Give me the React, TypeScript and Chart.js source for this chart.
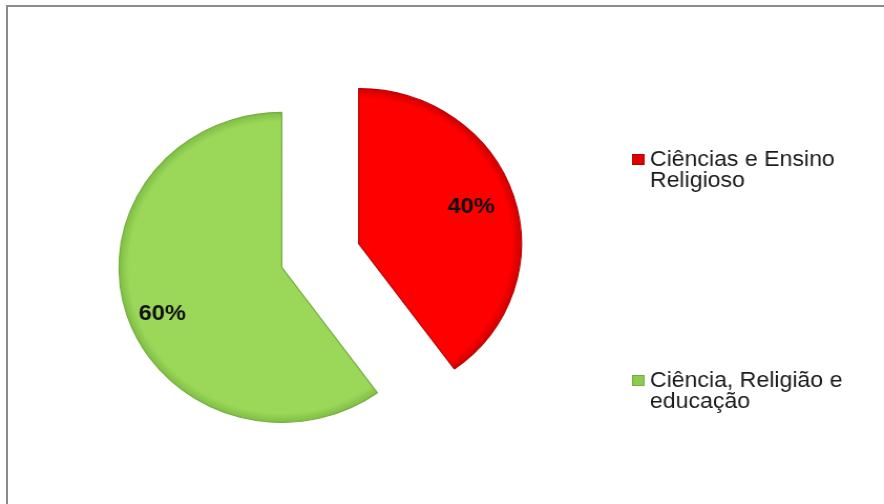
import React, { useEffect, useRef } from "react";
import { Chart, registerables } from "chart.js";

Chart.register(...registerables);

const categories: string[][] = [
  ["Ciências e Ensino", "Religioso"],
  ["Ciência, Religião e", "educação"],
];
const values: number[] = [40, 60];
const valueLabels: string[] = ["40%", "60%"];
const sliceColors: string[] = ["#FF0000", "#9BD85A"];
const sliceRims: string[] = ["#D00000", "#80BE45"];
const sliceBorders: string[] = ["#B80000", "#74AD3E"];
const legendColors: string[] = ["#E00000", "#8CCB4E"];

// the reference picture is slightly wider than tall: draw on a narrower canvas and stretch it
const STRETCH = 1.05;
const VIEW_W = 884;
const VIEW_H = 504;
const CANVAS_W = Math.round(VIEW_W / STRETCH);

const EXPLODE = 38.5; // px each slice is pulled out from the centre
const RADIUS = 155;
const LABEL_POS = [0.735, 0.79];
const LABEL_ANGLE_SHIFT = [-1.8, -3.5]; // degrees
const FONT = '"Liberation Sans", Arial, sans-serif';

// explode each slice by moving its own centre along its mid angle
const explodePlugin = {
  id: "explode",
  beforeDatasetsDraw(chart: any) {
    const { chartArea, ctx } = chart;
    const cx = (chartArea.left + chartArea.right) / 2;
    const cy = (chartArea.top + chartArea.bottom) / 2;
    const meta = chart.getDatasetMeta(0);
    meta.data.forEach((arc: any, i: number) => {
      const half = (arc.startAngle + arc.endAngle) / 2;
      arc.x = cx + Math.cos(half) * EXPLODE;
      arc.y = cy + Math.sin(half) * EXPLODE;
      arc.outerRadius = RADIUS;
      const g = ctx.createRadialGradient(arc.x, arc.y, 0, arc.x, arc.y, RADIUS);
      g.addColorStop(0, sliceColors[i]);
      g.addColorStop(0.94, sliceColors[i]);
      g.addColorStop(1, sliceRims[i]);
      arc.options.backgroundColor = g;
    });
  },
};

const labelPlugin = {
  id: "sliceLabels",
  afterDatasetsDraw(chart: any) {
    const ctx = chart.ctx;
    const meta = chart.getDatasetMeta(0);
    const size = 22.5;
    ctx.save();
    ctx.font = `bold ${size}px ${FONT}`;
    ctx.fillStyle = "#111111";
    ctx.textAlign = "center";
    ctx.textBaseline = "alphabetic";
    meta.data.forEach((arc: any, i: number) => {
      const a = (arc.startAngle + arc.endAngle) / 2 + (LABEL_ANGLE_SHIFT[i] * Math.PI) / 180;
      const d = RADIUS * LABEL_POS[i];
      const x = arc.x + Math.cos(a) * d;
      const y = arc.y + Math.sin(a) * d;
      ctx.fillText(valueLabels[i], x, y + size * 0.358);
    });
    ctx.restore();
  },
};

const legendPlugin = {
  id: "customLegend",
  afterDraw(chart: any) {
    const ctx = chart.ctx;
    const x0 = 602;
    const tops = [154, 375];
    ctx.save();
    ctx.font = `22px ${FONT}`;
    ctx.textAlign = "left";
    ctx.textBaseline = "alphabetic";
    categories.forEach((lines, i) => {
      const top = tops[i];
      ctx.fillStyle = legendColors[i];
      ctx.fillRect(x0, top, 12, 11);
      ctx.strokeStyle = sliceBorders[i];
      ctx.lineWidth = 1;
      ctx.strokeRect(x0 + 0.5, top + 0.5, 11, 10);
      ctx.fillStyle = "#1a1a1a";
      lines.forEach((line, j) => {
        ctx.fillText(line, x0 + 17, top + 12 + j * 21);
      });
    });
    ctx.restore();
  },
};

export default function App() {
  const canvasRef = useRef<HTMLCanvasElement | null>(null);

  useEffect(() => {
    if (!canvasRef.current) return;
    const chart = new Chart(canvasRef.current, {
      type: "pie",
      data: {
        labels: categories.map((l) => l.join(" ")),
        datasets: [
          {
            data: values,
            backgroundColor: sliceColors,
            borderColor: sliceBorders,
            borderWidth: 1.2,
            offset: 0,
          },
        ],
      },
      options: {
        animation: false,
        responsive: false,
        maintainAspectRatio: false,
        devicePixelRatio: 1,
        radius: RADIUS,
        layout: { padding: { left: 0, right: 232, top: 7, bottom: 0 } },
        plugins: {
          legend: { display: false },
          tooltip: { enabled: false },
        },
      },
      plugins: [explodePlugin, labelPlugin, legendPlugin],
    });
    return () => chart.destroy();
  }, []);

  return (
    <div style={{ position: "fixed", left: 0, top: 0, width: VIEW_W, height: VIEW_H, background: "#fff" }}>
      <div
        style={{
          position: "absolute",
          left: 6,
          top: 5,
          right: 0,
          bottom: 0,
          borderTop: "2px solid #8a8a8a",
          borderLeft: "2px solid #8a8a8a",
        }}
      />
      <canvas
        ref={canvasRef}
        width={CANVAS_W}
        height={VIEW_H}
        style={{ position: "absolute", left: 0, top: 0, width: `${VIEW_W}px`, height: `${VIEW_H}px` }}
      />
    </div>
  );
}
